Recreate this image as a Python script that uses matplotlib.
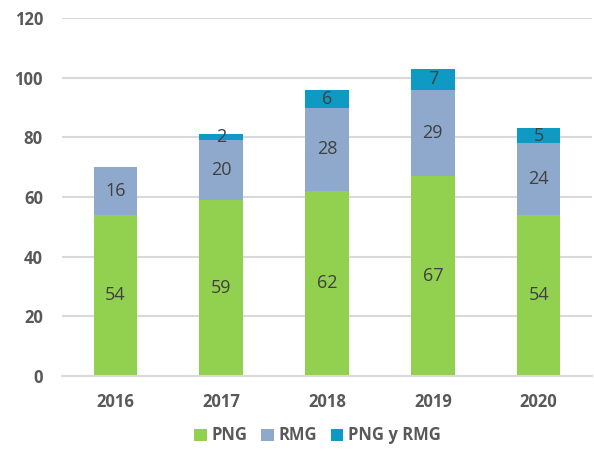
import numpy as np
import matplotlib.pyplot as plt

years = ["2016", "2017", "2018", "2019", "2020"]
png = [54, 59, 62, 67, 54]
rmg = [16, 20, 28, 29, 24]
ambos = [0, 2, 6, 7, 5]
series_names = ["PNG", "RMG", "PNG y RMG"]
colors = ["#92D050", "#8EA9CB", "#0E9AC2"]

plt.rcParams['font.family'] = ['Open Sans', 'DejaVu Sans']

fig = plt.figure(figsize=(5.94, 4.54), dpi=100)
ax = fig.add_axes([0.105, 0.172, 0.891, 0.788])

x = np.arange(len(years))
bottom = np.zeros(len(years))
for vals, name, c in zip([png, rmg, ambos], series_names, colors):
    vals = np.array(vals, dtype=float)
    bars = ax.bar(x, vals, width=0.41, bottom=bottom, color=c, label=name, zorder=2)
    for xi, b, v in zip(x, bottom, vals):
        if v > 0:
            ax.text(xi, b + v / 2, f"{int(v)}", ha="center", va="center",
                    fontsize=13, color="#404040", zorder=3)
    bottom += vals

ax.set_xlim(-0.5, len(years) - 0.5)
ax.set_ylim(0, 120)
ax.set_yticks(range(0, 121, 20))
ax.set_xticks(x)
ax.set_xticklabels(years)
ax.yaxis.grid(True, color="#D9D9D9", linewidth=1.5, zorder=0)
ax.set_axisbelow(True)
for s in ["top", "right", "left"]:
    ax.spines[s].set_visible(False)
ax.spines["bottom"].set_color("#D9D9D9")
ax.spines["bottom"].set_linewidth(1.5)
ax.tick_params(axis="both", length=0, labelsize=12, labelcolor="#595959")
ax.tick_params(axis="x", pad=12)
ax.tick_params(axis="y", pad=14)
for lbl in ax.get_xticklabels() + ax.get_yticklabels():
    lbl.set_fontweight("bold")

leg = fig.legend(loc="lower center", bbox_to_anchor=(0.535, -0.012), ncol=3, frameon=False,
                 handlelength=0.75, handleheight=0.75, handletextpad=0.3, columnspacing=0.8,
                 prop={"size": 12, "weight": "bold"})
for t in leg.get_texts():
    t.set_color("#595959")

fig.savefig("out.png", dpi=100)
